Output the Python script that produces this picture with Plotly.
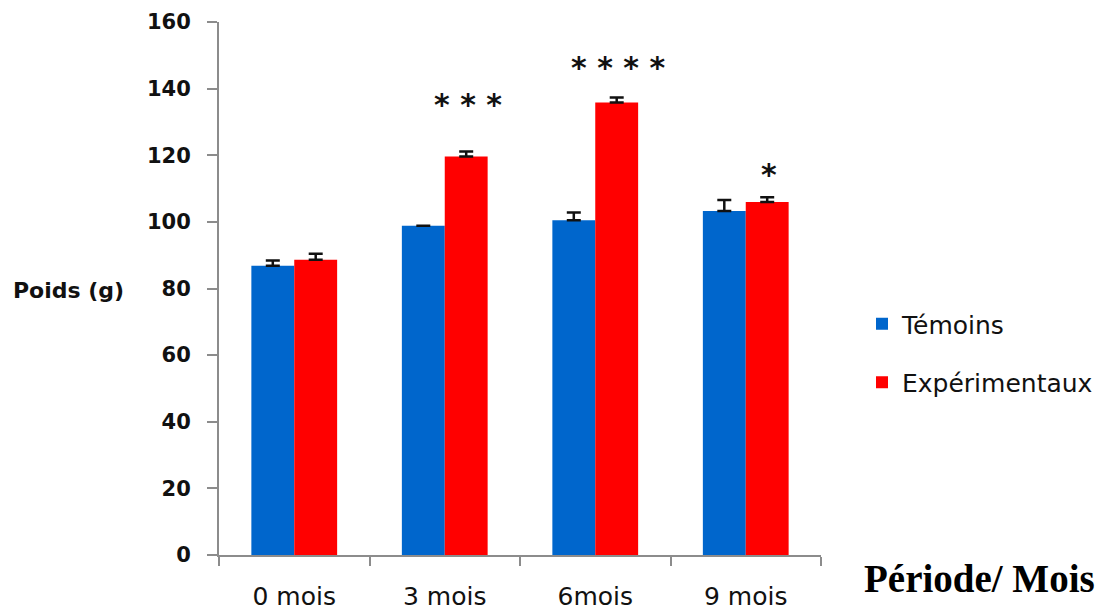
import plotly.graph_objects as go

categories = ["0 mois", "3 mois", "6mois", "9 mois"]
temoins = [86.8, 98.8, 100.5, 103.3]
temoins_err = [1.6, 0.0, 2.3, 3.3]
experimentaux = [88.6, 119.6, 135.8, 106.0]
experimentaux_err = [1.8, 1.5, 1.5, 1.4]
stars = ["", "***", "****", "*"]
star_y = [None, 135.3, 146.3, 114.3]

BLUE = "#0066CC"
RED = "#FF0000"
AXIS = "#8C8C8C"

# the page adds an 8px body margin, so the figure is drawn 8px smaller
W, H = 1095, 602
L, T = 211, 14
PW, PH = 602, 533

fig = go.Figure()
fig.add_trace(go.Bar(
    x=categories, y=temoins, name="Témoins", marker_color=BLUE,
    marker_line_width=0, legendgroup="a",
    error_y=dict(type="data", array=temoins_err, arrayminus=[0]*4, symmetric=False,
                 color="#111111", thickness=2.5, width=7),
))
fig.add_trace(go.Bar(
    x=categories, y=experimentaux, name="Expérimentaux", marker_color=RED,
    marker_line_width=0, legendgroup="b",
    error_y=dict(type="data", array=experimentaux_err, arrayminus=[0]*4, symmetric=False,
                 color="#111111", thickness=2.5, width=7),
))

# significance stars above the red bars
for cat, s, yv in zip(categories, stars, star_y):
    if s:
        fig.add_annotation(x=cat, y=yv, xref="x", yref="y", text=" ".join(s),
                           showarrow=False, xshift=23,
                           font=dict(family="DejaVu Sans", size=30, color="#111111", weight="bold"),
                           yanchor="middle")

fig.add_annotation(x=(11 - 219) / PW, y=(555 - 290) / PH, xref="paper", yref="paper",
                   text="Poids (g)", showarrow=False, xanchor="left", yanchor="middle",
                   font=dict(family="DejaVu Sans", size=22, color="#111111", weight="bold"))
fig.add_annotation(x=(862 - 219) / PW, y=(555 - 578) / PH, xref="paper", yref="paper",
                   text="Période/ Mois", showarrow=False, xanchor="left", yanchor="middle",
                   font=dict(family="Liberation Serif", size=39, color="#000000", weight="bold"))

fig.update_layout(
    width=W, height=H,
    paper_bgcolor="white", plot_bgcolor="white",
    margin=dict(l=L, r=W - L - PW, t=T, b=H - T - PH, pad=0, autoexpand=False),
    barmode="group", bargap=0.43, bargroupgap=0,
    showlegend=True,
    legend=dict(x=(862 - 219) / PW, y=(555 - 353) / PH, xanchor="left", yanchor="middle",
                font=dict(family="DejaVu Sans", size=25, color="#111111"),
                tracegroupgap=23, itemwidth=30, bgcolor="rgba(0,0,0,0)"),
    font=dict(family="DejaVu Sans", color="#111111"),
)
fig.update_xaxes(
    type="category", showline=True, linecolor=AXIS, linewidth=2,
    ticks="outside", tickson="boundaries", ticklen=9, tickcolor=AXIS, tickwidth=1.5,
    showgrid=False, zeroline=False, ticklabelstandoff=18, automargin=False,
    tickfont=dict(family="DejaVu Sans", size=25, color="#111111"),
)
fig.update_yaxes(
    range=[0, 160], dtick=20, showline=True, linecolor=AXIS, linewidth=2,
    ticks="outside", ticklen=10, tickcolor=AXIS, tickwidth=1.5,
    showgrid=False, zeroline=False, ticklabelstandoff=12, automargin=False,
    tickfont=dict(family="DejaVu Sans", size=21, color="#111111", weight="bold"),
)

fig.write_html("out.html")
